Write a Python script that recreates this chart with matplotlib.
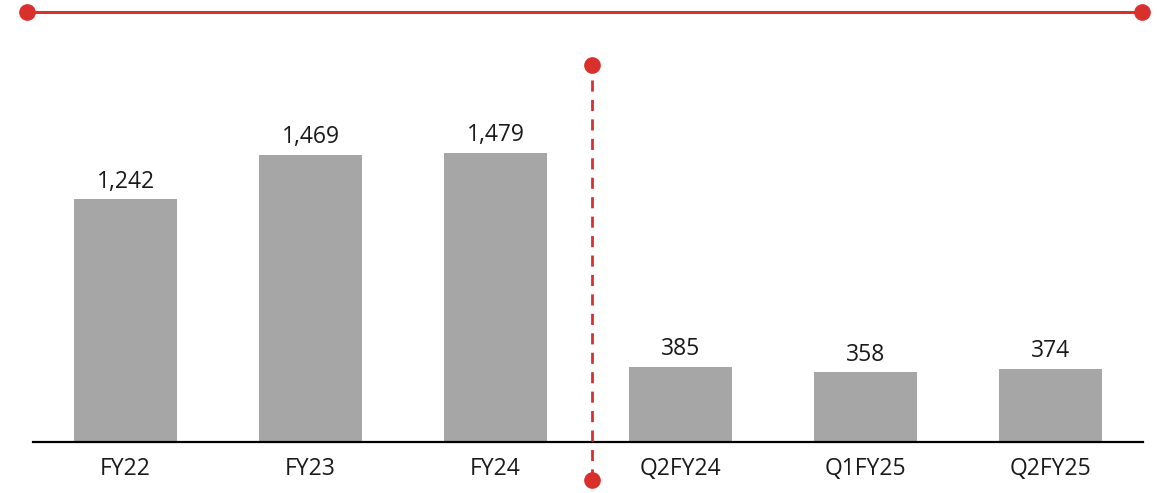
import matplotlib.pyplot as plt
from matplotlib.lines import Line2D

plt.rcParams['font.family'] = ['Open Sans', 'DejaVu Sans']

# data
periods = ['FY22', 'FY23', 'FY24', 'Q2FY24', 'Q1FY25', 'Q2FY25']
values = [1242, 1469, 1479, 385, 358, 374]

red = '#D9302E'
grey = '#A6A6A6'

W, H = 1158, 493
fig = plt.figure(figsize=(W / 100, H / 100), dpi=100)
# axes from x=33..1143 px, y=12..442 px (from top)
ax = fig.add_axes([33 / W, (H - 442) / H, 1110 / W, 430 / H])

x = list(range(len(periods)))
bars = ax.bar(x, values, width=0.557, color=grey, zorder=2)
for xi, v in zip(x, values):
    ax.text(xi, v + 28, f'{v:,}', ha='center', va='bottom', fontsize=16.5, color='#1a1a1a')

ax.set_xlim(-0.5, 5.5)
ax.set_ylim(0, 2200)
ax.set_xticks(x)
ax.set_xticklabels(periods, fontsize=16.5, color='#1a1a1a')
ax.tick_params(axis='x', length=0, pad=11)
ax.set_yticks([])
for s in ['top', 'left', 'right']:
    ax.spines[s].set_visible(False)
ax.spines['bottom'].set_linewidth(1.6)
ax.spines['bottom'].set_color('black')

# divider between annual and quarterly
ax.plot([2.52, 2.52], [-194, 1929], color=red, lw=2, ls=(0, (4, 3)), clip_on=False, zorder=3)
ax.plot([2.52, 2.52], [-194, 1929], color=red, lw=0, marker='o', ms=11, clip_on=False, zorder=4)

# top rule
fig.add_artist(Line2D([27 / W, 1142 / W], [(H - 12) / H] * 2, transform=fig.transFigure,
                      color=red, lw=2.2, marker='o', ms=11, markevery=[0, 1]))

fig.savefig('out.png', dpi=100)
